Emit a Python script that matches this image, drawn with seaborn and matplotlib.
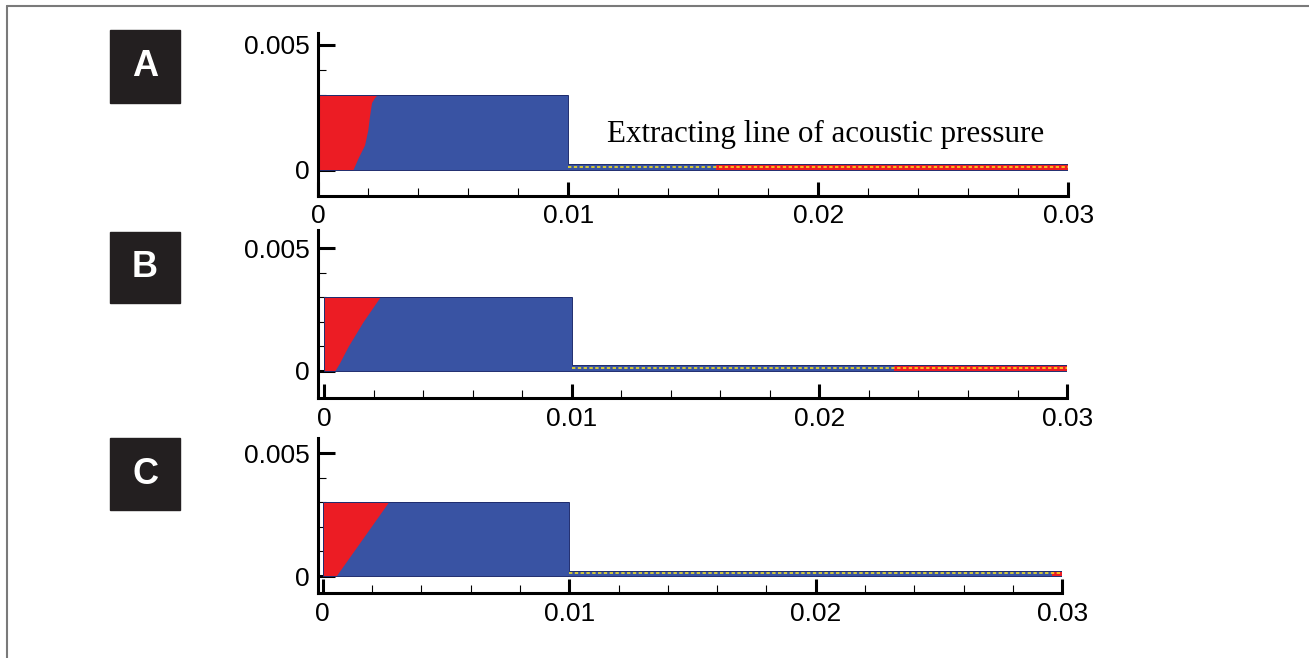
import matplotlib
matplotlib.use("Agg")
import matplotlib.pyplot as plt
import seaborn as sns
import numpy as np
from matplotlib.patches import Rectangle, Polygon
from matplotlib.lines import Line2D

sns.set_style("ticks")
plt.rcParams['font.family'] = ['Liberation Sans', 'DejaVu Sans']
plt.rcParams['text.color'] = 'black'

W, H, DPI = 1309, 658, 100

# ---------------- data ----------------
panel_labels = ["A", "B", "C"]
x_major_ticks = [0, 0.01, 0.02, 0.03]
x_tick_labels = ["0", "0.01", "0.02", "0.03"]
y_major_ticks = [0, 0.005]
y_tick_labels = ["0", "0.005"]

chamber_length = 0.01
chamber_height = 0.003
tube_end = 0.03
tube_height = 0.00022

# red/blue interface (y levels, x positions)
iface_y_A = [0, 0.0005, 0.001, 0.0016, 0.0021, 0.0027, 0.0029, 0.003]
iface_x_A = [0.00138, 0.0016, 0.00185, 0.00198, 0.00204, 0.00213, 0.00225, 0.00235]
iface_y_B = [0, 0.0003, 0.001, 0.002, 0.003]
iface_x_B = [0.00044, 0.00062, 0.00098, 0.00158, 0.00226]
iface_y_C = [0, 0.0015, 0.003]
iface_x_C = [0.00054, 0.0016, 0.00266]

# position along the tube where it turns red
tube_split = [0.0159, 0.0230, 0.0296]

annotation = "Extracting line of acoustic pressure"

# ---------------- style ----------------
RED = "#ec1c24"
BLUE = "#3953a3"
EDGE = "#1f2c6e"
YELLOW = "#ffe81a"

# panel geometry: (left_px, right_px, bottom_px, top_px, xlim, ylim)
geoms = [
    (318.3, 1068.3, 195.7, 32.5, (0.0, 0.03), (-0.00103, 0.0055)),
    (318.3, 1067.1, 398.3, 229.7, (-0.00023, 0.03), (-0.00113, 0.00575)),
    (318.3, 1062.2, 593.3, 438.3, (-0.00018, 0.03), (-0.0007, 0.0056)),
]
boxes = [(110, 30, 70, 73), (110, 232, 70, 71), (110, 438, 70, 72)]

ifaces = [(iface_y_A, iface_x_A), (iface_y_B, iface_x_B), (iface_y_C, iface_x_C)]

fig = plt.figure(figsize=(W / DPI, H / DPI), dpi=DPI)

minor_x = [v for v in np.arange(0, 0.0301, 0.002) if min(abs(v - m) for m in x_major_ticks) > 1e-9]
minor_y = [0.001, 0.002, 0.003, 0.004]

for i, (l, r, b, t, xl, yl) in enumerate(geoms):
    ax = fig.add_axes([l / W, 1 - b / H, (r - l) / W, (b - t) / H])
    ax.set_xlim(*xl)
    ax.set_ylim(*yl)
    iy, ix = ifaces[i]
    # chamber
    ax.fill_between([0, chamber_length], 0, chamber_height, color=BLUE, lw=0)
    ax.fill_betweenx(iy, 0, ix, color=RED, lw=0)
    # tube
    ax.fill_between([chamber_length, tube_split[i]], 0, tube_height, color=BLUE, lw=0)
    ax.fill_between([tube_split[i], tube_end], 0, tube_height, color=RED, lw=0)
    outline = Polygon([(0, 0), (tube_end, 0), (tube_end, tube_height),
                       (chamber_length, tube_height), (chamber_length, chamber_height),
                       (0, chamber_height)], closed=True, fill=False, ec=EDGE, lw=0.7)
    ax.add_patch(outline)
    sns.lineplot(x=[chamber_length, tube_end], y=[tube_height / 2] * 2, ax=ax,
                 color=YELLOW, lw=1.1, linestyle=(0, (2.2, 1.6)))

    for s in ["top", "right"]:
        ax.spines[s].set_visible(False)
    for s in ["left", "bottom"]:
        ax.spines[s].set_linewidth(2.2)
        ax.spines[s].set_color("black")
    ax.set_xticks(x_major_ticks)
    ax.set_xticklabels(x_tick_labels)
    ax.set_xticks(minor_x, minor=True)
    ax.set_yticks(y_major_ticks)
    ax.set_yticklabels(y_tick_labels)
    ax.set_yticks(minor_y, minor=True)
    ax.tick_params(axis="x", which="major", direction="in", length=10, width=2.2,
                   labelsize=19, pad=6, color="black", labelcolor="black")
    ax.tick_params(axis="y", which="major", direction="in", length=12, width=2.2,
                   labelsize=19, pad=6, color="black", labelcolor="black")
    ax.tick_params(which="minor", direction="in", length=6, width=0.8, color="black")
    ax.patch.set_alpha(0)
    ax.grid(False)
    if i == 0:
        ax.text(0.0203, 0.00112, annotation, ha="center", va="baseline", color="black",
                fontsize=22.3, family=["Liberation Serif", "DejaVu Serif"])

    bx, by, bw, bh = boxes[i]
    fig.patches.append(Rectangle((bx / W, 1 - (by + bh) / H), bw / W, bh / H,
                                 transform=fig.transFigure, color="#231f20", zorder=1))
    fig.text((bx + bw / 2) / W, 1 - (by + bh / 2) / H, panel_labels[i], color="white",
             fontsize=26, fontweight="bold", ha="center", va="center")

# frame lines (left and top)
fig.add_artist(Line2D([7 / W, 7 / W], [0, 1 - 6 / H], transform=fig.transFigure,
                      color="#7a7a7a", lw=1.5))
fig.add_artist(Line2D([7 / W, 1], [1 - 6 / H, 1 - 6 / H], transform=fig.transFigure,
                      color="#7a7a7a", lw=1.5))

fig.savefig("out.png", dpi=DPI, facecolor="white")
